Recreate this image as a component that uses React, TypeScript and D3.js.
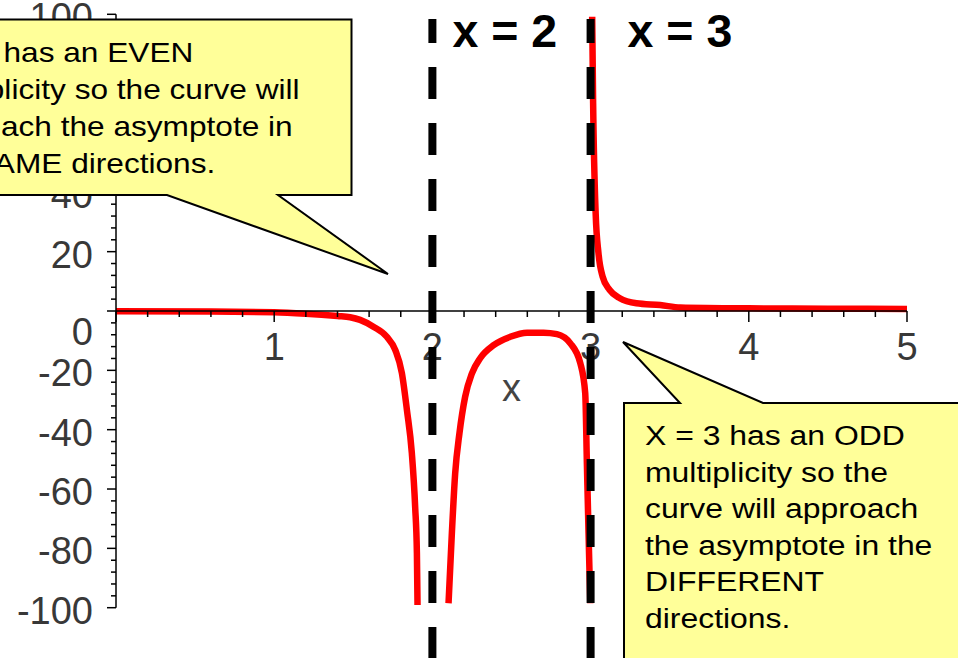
import React from "react";
import * as d3 from "d3";

// ---- data ----
const leftBranchX = [0, 0.6, 1.0, 1.2, 1.4, 1.48, 1.543, 1.627, 1.712, 1.765, 1.807, 1.839, 1.87, 1.891, 1.902, 1.906];
const leftBranchY = [-0.1, -0.2, -0.4, -0.9, -1.7, -2.1, -3.0, -5.3, -8.7, -13.1, -20.9, -33.4, -47.9, -66, -81.6, -99.1];

const midBranchX = [2.102, 2.123, 2.144, 2.171, 2.207, 2.25, 2.302, 2.387, 2.492, 2.598, 2.703, 2.787, 2.872, 2.935, 2.966, 2.977, 2.987, 2.998];
const midBranchY = [-98.5, -74.9, -54.7, -41.2, -28.9, -21.0, -15.9, -11.5, -8.7, -7.3, -7.3, -7.8, -10.9, -17.6, -27.7, -52.5, -74.9, -98.5];

const rightBranchX = [3.01, 3.016, 3.032, 3.05, 3.076, 3.12, 3.185, 3.29, 3.44, 3.567, 4.0, 4.5, 5.0];
const rightBranchY = [99.2, 70, 32.9, 19.4, 11.6, 7.1, 4.3, 2.6, 2.0, 1.2, 0.9, 0.8, 0.7];

const xTickLabels = [1, 2, 3, 4, 5];
const yTickLabels = [-100, -80, -60, -40, -20, 0, 20, 40, 60, 80, 100];
const asymptotes = [2, 3];
const asymptoteLabels = ["x = 2", "x = 3"];

const leftNote = ["X = 2 has an EVEN", "multiplicity so the curve will", "approach the asymptote in", "the SAME directions."];
const rightNote = ["X = 3 has an ODD", "multiplicity so the", "curve will approach", "the asymptote in the", "DIFFERENT", "directions."];

const W = 958;
const H = 658;

export default function App() {
  const x = d3.scaleLinear().domain([0, 5]).range([116, 907]);
  const y = d3.scaleLinear().domain([-100, 100]).range([607.7, 14.3]);

  const line = d3
    .line<[number, number]>()
    .x((d) => x(d[0]))
    .y((d) => y(d[1]))
    .curve(d3.curveMonotoneX);

  const branches = [
    leftBranchX.map((v, i) => [v, leftBranchY[i]] as [number, number]),
    midBranchX.map((v, i) => [v, midBranchY[i]] as [number, number]),
    rightBranchX.map((v, i) => [v, rightBranchY[i]] as [number, number]),
  ];

  const xMinor = d3.range(0, 5.0001, 0.2);
  const yMinor = d3.range(-100, 100.001, 4);

  const labelFont = "'Liberation Sans', Arial, sans-serif";

  return (
    <svg
      width={W}
      height={H}
      viewBox={`0 0 ${W} ${H}`}
      style={{ position: "absolute", left: 0, top: 0, background: "#fff" }}
    >
      <rect x={0} y={0} width={W} height={H} fill="#fff" />

      {/* tick labels */}
      <g fontFamily={labelFont} fontSize={38} fill="#383838">
        {yTickLabels.map((t) => (
          <text key={"yl" + t} x={93} y={y(t) + (t === 0 ? 34 : 16)} textAnchor="end">
            {t}
          </text>
        ))}
        {xTickLabels.map((t) => (
          <text key={"xl" + t} x={x(t)} y={360} textAnchor="middle">
            {t}
          </text>
        ))}
        <text x={x(2.5)} y={401} textAnchor="middle" fill="#444">
          x
        </text>
      </g>

      {/* curve */}
      <g fill="none" stroke="#ff0000" strokeWidth={6.5} strokeLinejoin="round">
        {branches.map((b, i) => (
          <path key={i} d={line(b) || ""} />
        ))}
      </g>

      {/* axes */}
      <g stroke="#000" strokeWidth={1.5}>
        <line x1={x(0)} x2={x(5)} y1={y(0)} y2={y(0)} />
        <line x1={x(0)} x2={x(0)} y1={y(-100)} y2={y(100)} />
        {xMinor.map((t, i) => {
          const major = Math.abs(t - Math.round(t)) < 1e-6;
          return <line key={"xt" + i} x1={x(t)} x2={x(t)} y1={y(0)} y2={y(0) + (major ? 11 : 6)} />;
        })}
        {yMinor.map((t, i) => {
          const major = Math.abs(t / 20 - Math.round(t / 20)) < 1e-6;
          return <line key={"yt" + i} x1={x(0) - (major ? 9 : 5)} x2={x(0)} y1={y(t)} y2={y(t)} />;
        })}
      </g>

      {/* asymptotes */}
      <g stroke="#000" strokeWidth={8} strokeDasharray="32 24" strokeDashoffset={8}>
        {asymptotes.map((a) => (
          <line key={"as" + a} x1={x(a)} x2={x(a)} y1={19} y2={H} />
        ))}
      </g>
      <g fontFamily={labelFont} fontWeight="bold" fontSize={46.5} fill="#000">
        {asymptoteLabels.map((l, i) => (
          <text key={l} x={x(asymptotes[i]) + (i === 0 ? 20 : 37)} y={47}>
            {l}
          </text>
        ))}
      </g>

      {/* left callout */}
      <path
        d="M -90 19.5 H 351.5 V 195 H 278 L 388 274 L 167 195 H -90 Z"
        fill="#ffff99"
        stroke="#000"
        strokeWidth={2}
        strokeLinejoin="miter"
      />
      <g transform="translate(-80,0) scale(1.13,1)" fontFamily={labelFont} fontSize={28} fill="#000">
        {leftNote.map((l, i) => (
          <text key={"ln" + i} x={0} y={61.7 + i * 37.2}>
            {l}
          </text>
        ))}
      </g>

      {/* right callout */}
      <path
        d="M 624 403 H 680 L 623 342 L 763 403 H 1000 V 700 H 624 Z"
        fill="#ffff99"
        stroke="#000"
        strokeWidth={2}
      />
      <g transform="translate(645,0) scale(1.14,1)" fontFamily={labelFont} fontSize={28} fill="#000">
        {rightNote.map((l, i) => (
          <text key={"rn" + i} x={0} y={445 + i * 36.6}>
            {l}
          </text>
        ))}
      </g>
    </svg>
  );
}
